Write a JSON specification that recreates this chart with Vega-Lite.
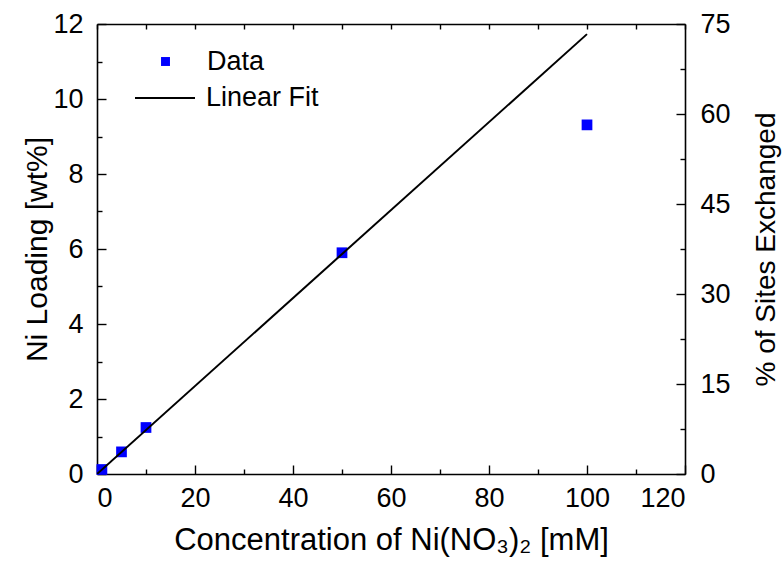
{
  "$schema": "https://vega.github.io/schema/vega-lite/v6.json",
  "width": 588,
  "height": 450,
  "autosize": {"type": "none"},
  "padding": {"left": 97, "top": 24, "right": 99, "bottom": 97},
  "background": "white",
  "config": {
    "view": {"stroke": null},
    "font": "Liberation Sans",
    "axis": {
      "domainColor": "black",
      "domainWidth": 1.6,
      "tickColor": "black",
      "tickWidth": 1.4,
      "labelColor": "black",
      "titleColor": "black",
      "labelFont": "Liberation Sans",
      "titleFont": "Liberation Sans",
      "labelFontSize": 27,
      "titleFontSize": 30,
      "titleFontWeight": "normal",
      "grid": false
    },
    "legend": {
      "orient": "none",
      "title": null,
      "labelFontSize": 27,
      "labelFont": "Liberation Sans",
      "labelColor": "black",
      "padding": 0
    }
  },
  "data": {
    "values": [
      {"series": "Data", "conc": 1, "wt": 0.12},
      {"series": "Data", "conc": 5, "wt": 0.59},
      {"series": "Data", "conc": 10, "wt": 1.24},
      {"series": "Data", "conc": 50, "wt": 5.9},
      {"series": "Data", "conc": 100, "wt": 9.31},
      {"series": "Linear Fit", "conc": 0, "wt": 0},
      {"series": "Linear Fit", "conc": 100, "wt": 11.73}
    ]
  },
  "layer": [
    {
      "transform": [{"filter": "datum.series === 'Data'"}],
      "mark": {"type": "point", "shape": "square", "filled": true, "size": 115, "opacity": 1},
      "encoding": {
        "x": {
          "field": "conc", "type": "quantitative",
          "scale": {"domain": [0, 120], "nice": false, "zero": false},
          "axis": {
            "orient": "bottom",
            "values": [0,10,20,30,40,50,60,70,80,90,100,110,120],
            "labelExpr": "datum.value % 20 === 0 ? datum.label : ''",
            "tickSize": {"condition": {"test": "datum.value % 20 === 0", "value": -9}, "value": -5},
            "labelPadding": 20,
            "title": "Concentration of Ni(NO₃)₂ [mM]",
            "titleFontSize": 31,
            "titlePadding": 14
          }
        },
        "y": {
          "field": "wt", "type": "quantitative",
          "scale": {"domain": [0, 12], "nice": false, "zero": false},
          "axis": {
            "orient": "left",
            "values": [0,1,2,3,4,5,6,7,8,9,10,11,12],
            "labelExpr": "datum.value % 2 === 0 ? datum.label : ''",
            "tickSize": {"condition": {"test": "datum.value % 2 === 0", "value": -9}, "value": -5},
            "labelPadding": 23,
            "title": "Ni Loading [wt%]",
            "titlePadding": 0
          }
        },
        "fill": {
          "field": "series", "type": "nominal",
          "scale": {"domain": ["Data"], "range": ["#0000ff"]},
          "legend": {
            "legendX": 55,
            "legendY": 24,
            "symbolType": "square",
            "symbolSize": 80,
            "symbolStrokeWidth": 0,
            "labelOffset": 28
          }
        }
      }
    },
    {
      "transform": [{"filter": "datum.series === 'Linear Fit'"}],
      "mark": {"type": "line", "strokeWidth": 2, "clip": true},
      "encoding": {
        "x": {
          "field": "conc", "type": "quantitative",
          "axis": {
            "orient": "top",
            "values": [0,10,20,30,40,50,60,70,80,90,100,110,120],
            "labels": false,
            "title": null,
            "tickSize": -5
          }
        },
        "y": {
          "field": "wt", "type": "quantitative",
          "axis": {
            "orient": "right",
            "values": [0,1.2,2.4,3.6,4.8,6,7.2,8.4,9.6,10.8,12],
            "labelExpr": "abs(datum.value/2.4 - round(datum.value/2.4)) < 0.01 ? format(round(datum.value*6.25), 'd') : ''",
            "tickSize": {"condition": {"test": "abs(datum.value/2.4 - round(datum.value/2.4)) < 0.01", "value": -9}, "value": -5},
            "labelPadding": 24,
            "labelAlign": "left",
            "title": "% of Sites Exchanged",
            "titleFontSize": 28,
            "titleAngle": 270,
            "titlePadding": 50,
            "titleBaseline": "bottom"
          }
        },
        "stroke": {
          "field": "series", "type": "nominal",
          "scale": {"domain": ["Linear Fit"], "range": ["#000000"]},
          "legend": {
            "legendX": 37,
            "legendY": 43,
            "symbolType": "stroke",
            "symbolSize": 3600,
            "symbolStrokeWidth": 2,
            "labelOffset": 10
          }
        }
      }
    }
  ]
}
